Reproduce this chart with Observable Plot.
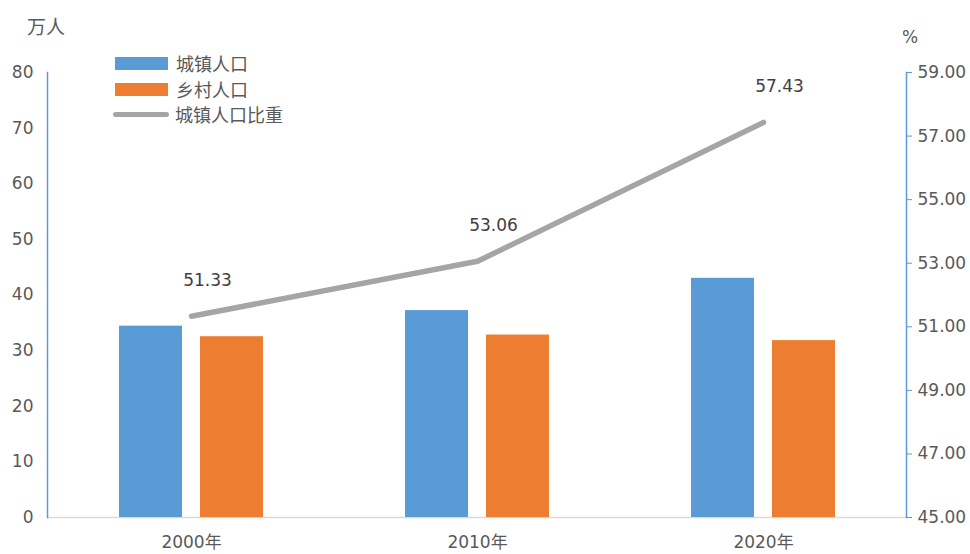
<!DOCTYPE html>
<html>
<head>
<meta charset="utf-8">
<script src="https://cdn.jsdelivr.net/npm/d3@7"></script>
<script src="https://cdn.jsdelivr.net/npm/@observablehq/plot@0.6"></script>
<style>
  body { margin: 0; background: #fff; }
  #wrap { position: relative; width: 970px; height: 554px; font-family: "DejaVu Sans", "Noto Sans CJK SC", sans-serif; color: #595959; }
  .abs { position: absolute; white-space: nowrap; }
  .unit { font-size: 19px; line-height: 22px; font-family: "Noto Sans CJK SC", sans-serif; }
  .lg { font-size: 18px; line-height: 20px; display: flex; align-items: center; font-family: "Noto Sans CJK SC", sans-serif; }
  .sw { display: inline-block; width: 53px; height: 13px; margin-right: 8px; }
  .ln { display: inline-block; width: 56px; height: 5px; border-radius: 3px; background: #A5A5A5; margin-right: 6px; }
</style>
</head>
<body>
<div id="wrap">
  <div class="abs unit" style="left:27px; top:15px;">万人</div>
  <div class="abs" style="left:902px; top:27px; font-size:17px;">%</div>
  <div class="abs lg" style="left:115px; top:53px;"><span class="sw" style="background:#5B9BD5"></span>城镇人口</div>
  <div class="abs lg" style="left:115px; top:79px;"><span class="sw" style="background:#ED7D31"></span>乡村人口</div>
  <div class="abs lg" style="left:113px; top:104px;"><span class="ln"></span>城镇人口比重</div>
</div>
<script>
const years = ["2000年", "2010年", "2020年"];
const urbanPop = [34.4, 37.2, 43.0];
const ruralPop = [32.5, 32.8, 31.8];
const urbanShare = [51.33, 53.06, 57.43];
const leftTicks = [0, 10, 20, 30, 40, 50, 60, 70, 80];
const rightTicks = [45, 47, 49, 51, 53, 55, 57, 59];

const blue = "#5B9BD5", orange = "#ED7D31", gray = "#A5A5A5";
const toLeft = d3.scaleLinear([45, 59], [0, 80]);

const urbanData = years.map((y, i) => ({year: y, value: urbanPop[i]}));
const ruralData = years.map((y, i) => ({year: y, value: ruralPop[i]}));
const shareData = years.map((y, i) => ({year: y, value: urbanShare[i]}));

const chart = Plot.plot({
  width: 970,
  height: 554,
  marginLeft: 47,
  marginRight: 64,
  marginTop: 72,
  marginBottom: 37,
  x: {domain: years, padding: 0, label: null},
  y: {domain: [0, 80], label: null},
  style: {fontFamily: '"DejaVu Sans", "Noto Sans CJK SC", sans-serif', fontSize: "17px", color: "#595959", background: "transparent"},
  marks: [
    Plot.ruleY([0], {stroke: "#D9D9D9", strokeWidth: 1.5}),
    Plot.frame({anchor: "left", stroke: blue, strokeWidth: 1.5}),
    Plot.frame({anchor: "right", stroke: blue, strokeWidth: 1.5}),
    Plot.axisY({ticks: leftTicks, tickSize: 0, tickPadding: 14, label: null, fill: "#595959"}),
    Plot.axisY({anchor: "right", ticks: rightTicks.map(d => toLeft(d)), tickFormat: d => toLeft.invert(d).toFixed(2),
      tickSize: 5, tickPadding: 6, stroke: blue, fill: "#595959", label: null}),
    Plot.axisX({tickSize: 0, tickPadding: 18, label: null, fill: "#595959"}),
    Plot.barY(urbanData, {x: "year", y: "value", fill: blue, insetLeft: 71, insetRight: 152}),
    Plot.barY(ruralData, {x: "year", y: "value", fill: orange, insetLeft: 152, insetRight: 71}),
    Plot.line(shareData, {x: "year", y: d => toLeft(d.value), stroke: gray, strokeWidth: 5.5, strokeLinecap: "round", strokeLinejoin: "round"}),
    Plot.text(shareData, {x: "year", y: d => toLeft(d.value), text: d => d.value.toFixed(2), dy: -36, dx: 16, fill: "#404040", fontSize: 17})
  ]
});
chart.style.position = "absolute";
chart.style.left = "0px";
chart.style.top = "0px";
document.getElementById("wrap").prepend(chart);
</script>
</body>
</html>
